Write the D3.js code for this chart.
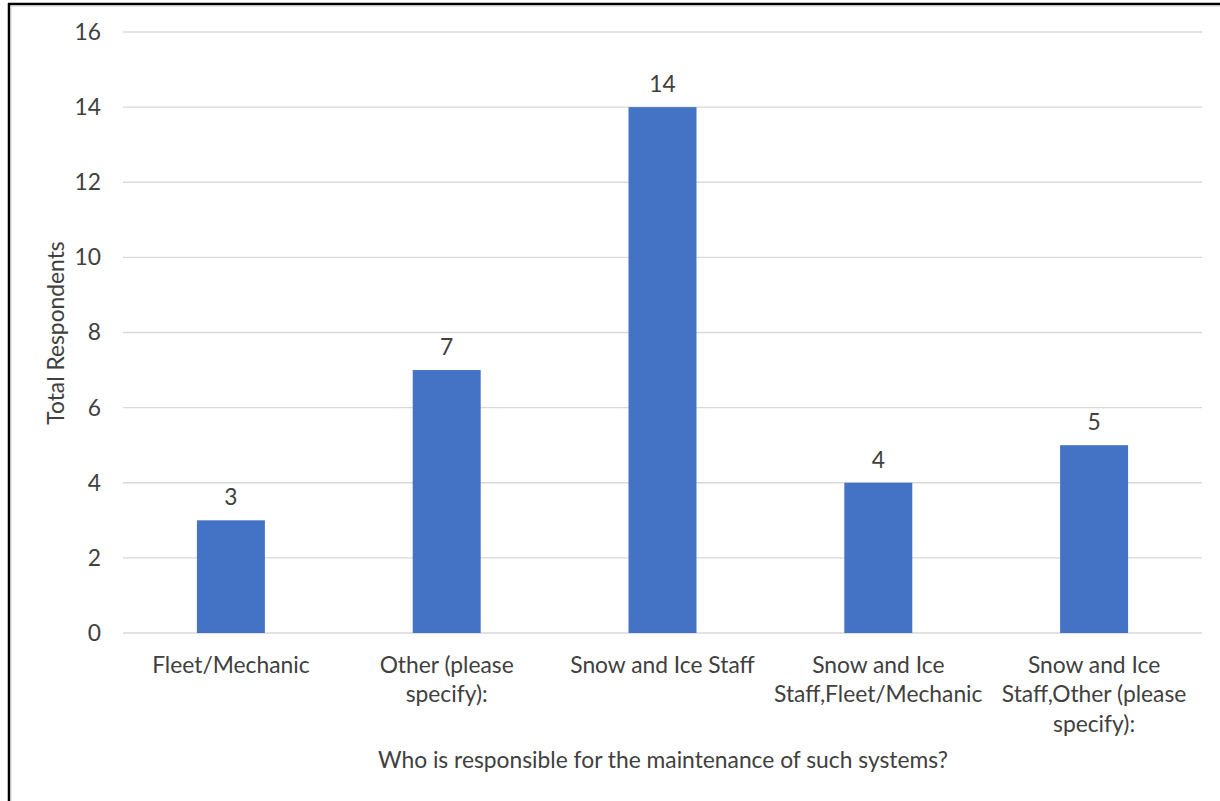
<!DOCTYPE html>
<html><head><meta charset="utf-8">
<script src="https://cdn.jsdelivr.net/npm/d3@7"></script>
<style>body{margin:0;background:#fff}svg{display:block}text{font-family:Lato,"Open Sans",sans-serif;fill:#404040}</style>
</head><body><svg id="c" width="1220" height="801"></svg>
<script>
const categories = [["Fleet/Mechanic"],["Other (please","specify):"],["Snow and Ice Staff"],["Snow and Ice","Staff,Fleet/Mechanic"],["Snow and Ice","Staff,Other (please","specify):"]];
const values = [3,7,14,4,5];
const yTicks = [0,2,4,6,8,10,12,14,16];
const yTitle = "Total Respondents";
const xTitle = "Who is responsible for the maintenance of such systems?";

const FS = 22.8;
const svg = d3.select("#c");
// frame
svg.append("line").attr("x1",8).attr("x2",1220).attr("y1",4).attr("y2",4).attr("stroke","#000").attr("stroke-width",2.5);
svg.append("line").attr("x1",9).attr("x2",9).attr("y1",3).attr("y2",801).attr("stroke","#000").attr("stroke-width",2.5);
svg.append("line").attr("x1",11).attr("x2",1220).attr("y1",6).attr("y2",6).attr("stroke","#ccc").attr("stroke-width",1);
svg.append("line").attr("x1",11).attr("x2",11).attr("y1",6).attr("y2",801).attr("stroke","#ccc").attr("stroke-width",1);

const L=123,R=1202,T=32,B=633;
const x = d3.scaleBand().domain(d3.range(values.length)).range([L,R]).paddingInner(0.685).paddingOuter(0.3425);
const y = d3.scaleLinear().domain([0,16]).range([B,T]);

const g = svg.append("g");
g.selectAll(".grid").data(yTicks).join("line")
 .attr("x1",L).attr("x2",R).attr("y1",d=>y(d)).attr("y2",d=>y(d))
 .attr("stroke","#d9d9d9").attr("stroke-width",1.3);
g.selectAll(".yt").data(yTicks).join("text")
 .attr("x",101).attr("y",d=>y(d)).attr("dy","0.35em").attr("text-anchor","end")
 .attr("font-size",FS).text(d=>d);

g.selectAll(".bar").data(values).join("rect")
 .attr("x",(d,i)=>x(i)).attr("width",x.bandwidth())
 .attr("y",d=>y(d)).attr("height",d=>B-y(d)).attr("fill","#4472c4");
g.selectAll(".vl").data(values).join("text")
 .attr("x",(d,i)=>x(i)+x.bandwidth()/2).attr("y",d=>y(d)-23).attr("dy","0.35em")
 .attr("text-anchor","middle").attr("font-size",FS).text(d=>d);

categories.forEach((lines,i)=>{
  const t = g.append("text").attr("text-anchor","middle").attr("font-size",FS);
  lines.forEach((ln,j)=>{
    t.append("tspan").attr("x",x(i)+x.bandwidth()/2).attr("y",665+j*29.5).attr("dy","0.35em").text(ln);
  });
});

svg.append("text").attr("transform","translate(56,333) rotate(-90)").attr("text-anchor","middle").attr("dy","0.35em").attr("font-size",FS).text(yTitle);
svg.append("text").attr("x",663).attr("y",760).attr("text-anchor","middle").attr("dy","0.35em").attr("font-size",FS).text(xTitle);
</script></body></html>
